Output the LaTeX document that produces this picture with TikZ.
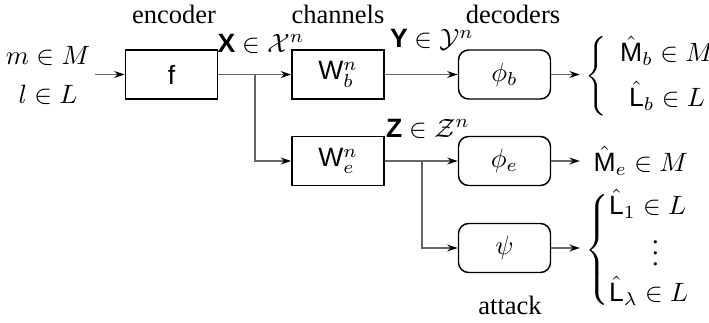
\documentclass[tikz,border=0pt]{standalone}
\usepackage{amsmath}
\usepackage{fontspec}
\setmainfont{Liberation Serif}
\setsansfont{Liberation Sans}
\usetikzlibrary{arrows.meta}
\begin{document}
\begin{tikzpicture}[x=0.377pt,y=-0.377pt,
  blk/.style={draw=black,line width=0.55pt,minimum width={92*0.377pt},minimum height={49*0.377pt},inner sep=0pt,font=\sffamily},
  dec/.style={blk,rounded corners=3.8pt},
  conn/.style={draw=black!60,line width=0.75pt},
  arr/.style={conn,-{Stealth[length=4pt,width=2.6pt,black]}},
  lbl/.style={inner sep=0pt}]
\useasboundingbox (0,0) rectangle (709,322);
% labels
\node[lbl,anchor=base] (tenc) at (174,23) {encoder};
\node[lbl,anchor=base] (tch) at (338,23) {channels};
\node[lbl,anchor=base] (tdec) at (513,23) {decoders};
\node[lbl,anchor=base] (tatt) at (510,314) {attack};
% inputs
\node[lbl] (inm) at (48,56) {$m\in M$};
\node[lbl] (inl) at (48,95) {$l\in L$};
\coordinate (in) at (95,74.5);
% blocks
\node[blk] (f) at (171.5,74.5) {f};
\node[blk] (Wb) at (338,74.5) {$\mathsf{W}_b^n$};
\node[blk] (We) at (338,161) {$\mathsf{W}_e^n$};
\node[dec] (phib) at (504.5,74.5) {$\phi_b$};
\node[dec] (phie) at (504.5,161) {$\phi_e$};
\node[dec] (psi) at (504.5,248) {$\psi$};
% signal labels
\node[lbl] (lx) at (261,44) {\textsf{\bfseries X} $\in\mathcal{X}^n$};
\node[lbl] (ly) at (432,40) {\textsf{\bfseries Y} $\in\mathcal{Y}^n$};
\node[lbl] (lz) at (428,129) {\textsf{\bfseries Z} $\in\mathcal{Z}^n$};
% connectors
\coordinate (b1) at (255,74.5);
\coordinate (b2) at (422,161);
\draw[arr] (in) -- (f.west);
\draw[conn] (f.east) -- (b1);
\draw[arr] (b1) -- (Wb.west);
\draw[arr] (b1) |- (We.west);
\draw[arr] (Wb.east) -- (phib.west);
\draw[conn] (We.east) -- (b2);
\draw[arr] (b2) -- (phie.west);
\draw[arr] (b2) |- (psi.west);
\coordinate (ob) at (580,74.5);
\coordinate (oe) at (580,161);
\coordinate (op) at (580,248);
\draw[arr] (phib.east) -- (ob);
\draw[arr] (phie.east) -- (oe);
\draw[arr] (psi.east) -- (op);
% outputs
\node[lbl,anchor=west] (outb) at (585,76) {$\left\{\begin{array}{c}\hat{\mathsf{M}}_b\in M\\[4pt] \hat{\mathsf{L}}_b\in L\end{array}\right.$};
\node[lbl,anchor=west] (oute) at (593,161) {$\hat{\mathsf{M}}_e\in M$};
\node[lbl,anchor=west] (outp) at (585,250) {$\left\{\begin{array}{@{}l}\hat{\mathsf{L}}_1\in L\\[0.5pt] \multicolumn{1}{c}{\vdots}\\[0.5pt] \hat{\mathsf{L}}_\lambda\in L\end{array}\right.$};
\end{tikzpicture}
\end{document}
